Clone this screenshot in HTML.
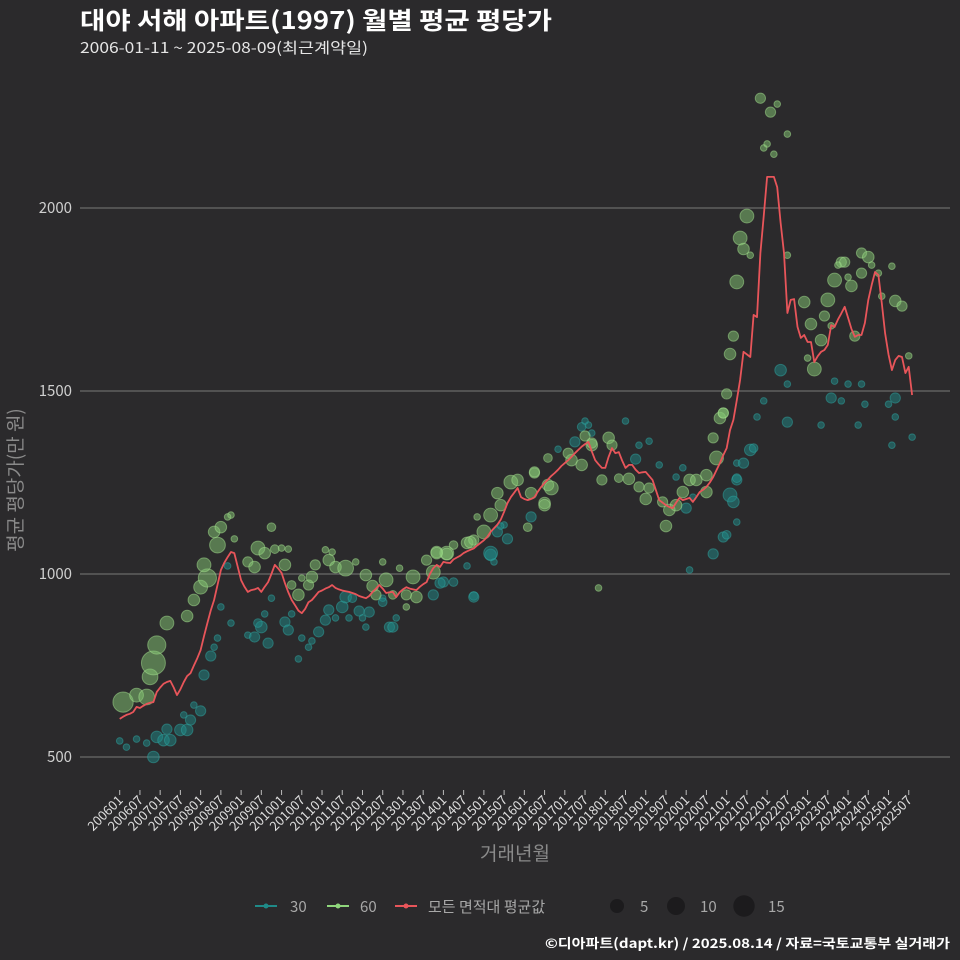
<!DOCTYPE html>
<html><head><meta charset="utf-8">
<style>
html,body{margin:0;padding:0;background:#2b2a2c;}
svg{display:block;font-family:"Noto Sans CJK KR","Liberation Sans",sans-serif;}
</style></head>
<body>
<svg id="chart" width="960" height="960" viewBox="0 0 960 960" xmlns="http://www.w3.org/2000/svg">
<rect x="0" y="0" width="960" height="960" fill="#2b2a2c"/>
<text x="80" y="29" fill="#ffffff" font-size="24" font-weight="bold" textLength="472" lengthAdjust="spacingAndGlyphs">대야 서해 아파트(1997) 월별 평균 평당가</text>
<text x="80" y="53" fill="#e6e6e6" font-size="15" textLength="288" lengthAdjust="spacingAndGlyphs">2006-01-11 ~ 2025-08-09(최근계약일)</text>
<g id="grid"></g>
<g id="yticks"></g>
<g id="xticks"></g>
<g id="dots30"></g>
<g id="dots60"></g>
<g id="avgline"></g>
<text transform="translate(22,480) rotate(-90)" text-anchor="middle" fill="#8a8a8a" font-size="19">평균 평당가(만 원)</text>
<text x="515" y="860" text-anchor="middle" fill="#8a8a8a" font-size="19">거래년월</text>
<g>
 <g>
  <line x1="255" y1="906" x2="277" y2="906" stroke="#1f8a88" stroke-width="2"/><circle cx="266" cy="906" r="2.5" fill="#1f8a88"/>
  <text x="290" y="912" fill="#a8a8a8" font-size="15">30</text></g>
 <g>
  <line x1="327" y1="906" x2="349" y2="906" stroke="#8fd67c" stroke-width="2"/><circle cx="338" cy="906" r="2.5" fill="#8fd67c"/>
  <text x="360" y="912" fill="#a8a8a8" font-size="15">60</text></g>
 <g>
  <line x1="395" y1="906" x2="417" y2="906" stroke="#e8555a" stroke-width="2"/><circle cx="406" cy="906" r="2.5" fill="#e8555a"/>
  <text x="428" y="912" fill="#a8a8a8" font-size="15">모든 면적대 평균값</text></g>
 <g>
  <circle cx="617" cy="906" r="7" fill="#1c1b1d"/><text x="640" y="912" fill="#a8a8a8" font-size="15">5</text>
  <circle cx="676" cy="906" r="9" fill="#1c1b1d"/><text x="700" y="912" fill="#a8a8a8" font-size="15">10</text>
  <circle cx="744" cy="906" r="10.7" fill="#1c1b1d"/><text x="768" y="912" fill="#a8a8a8" font-size="15">15</text>
 </g>
</g>
<text x="545" y="948" fill="#ffffff" font-size="13" font-weight="bold" textLength="405" lengthAdjust="spacingAndGlyphs">©디아파트(dapt.kr) / 2025.08.14 / 자료=국토교통부 실거래가</text>
</svg>
<script>
const yTicks = [500, 1000, 1500, 2000];
const xTickLabels = ["200601","200607","200701","200707","200801","200807","200901","200907","201001","201007","201101","201107","201201","201207","201301","201307","201401","201407","201501","201507","201601","201607","201701","201707","201801","201807","201901","201907","202001","202007","202101","202107","202201","202207","202301","202307","202401","202407","202501","202507"];
const avgValues = [604,610,615,618,623,637,634,640,645,648,650,678,
690,700,705,708,690,669,685,705,721,729,750,770,
792,830,866,900,929,970,1011,1030,1046,1060,1057,1020,
983,965,951,956,958,962,951,965,978,1000,1025,1015,
1003,975,950,929,915,900,893,905,923,929,940,951,
955,960,964,970,962,958,955,953,951,948,945,940,
937,934,940,951,960,970,960,948,950,951,937,950,
958,964,960,958,956,965,972,978,1000,1016,1025,1019,
1033,1031,1030,1040,1045,1050,1057,1062,1066,1070,1078,1085,
1092,1101,1115,1125,1135,1148,1170,1194,1210,1222,1235,1210,
1205,1202,1205,1210,1225,1238,1249,1258,1268,1276,1285,1295,
1303,1311,1320,1330,1339,1348,1355,1361,1335,1311,1300,1290,
1290,1320,1344,1330,1333,1310,1290,1298,1298,1285,1276,1278,
1279,1268,1257,1230,1202,1195,1188,1183,1180,1195,1208,1202,
1205,1208,1197,1210,1224,1230,1238,1250,1265,1284,1303,1325,
1344,1393,1421,1475,1530,1607,1600,1593,1708,1702,1877,1980,
2085,2085,2085,2057,1960,1877,1713,1749,1751,1675,1645,1653,
1634,1634,1579,1595,1607,1612,1626,1680,1675,1695,1712,1730,
1700,1670,1648,1653,1653,1686,1749,1790,1825,1817,1740,1658,
1600,1557,1585,1596,1593,1549,1566,1489];
// [monthIndex, avg price, trade count]
const series60 = [[1,650,14],[5,669,6],[8,664,8],[9,719,8],[10,757,20],[11,806,11],[14,866,6],[20,885,4],[22,929,4],[24,964,6],[26,989,11],[25,1025,6],[29,1079,8],[28,1115,4],[30,1128,4],[33,1161,1],[32,1156,1],[34,1096,1],[38,1033,3],[40,1019,4],[41,1071,6],[43,1057,4],[45,1128,2],[46,1068,2],[48,1071,1],[50,1068,1],[49,1025,4],[51,970,2],[53,943,4],[56,970,3],[54,989,1],[57,992,4],[58,1025,3],[62,1038,4],[61,1066,1],[63,1060,1],[64,1019,4],[67,1016,8],[70,1033,1],[73,997,4],[75,967,4],[78,1033,1],[79,984,6],[91,1038,3],[94,1060,4],[97,1057,6],[99,1079,2],[93,1005,6],[87,992,6],[83,1016,1],[88,937,4],[85,943,3],[76,943,3],[81,943,2],[85,910,1],[103,1085,4],[105,1093,3],[108,1115,6],[110,1161,6],[113,1188,4],[112,1221,4],[116,1251,6],[118,1257,4],[122,1221,4],[126,1194,4],[123,1276,3],[127,1243,4],[121,1128,2],[106,1156,1],[140,1352,4],[145,1372,4],[146,1352,3],[143,1257,3],[148,1262,2],[151,1260,4],[154,1238,3],[157,1235,3],[156,1205,4],[161,1197,3],[163,1175,4],[162,1131,4],[165,1188,4],[167,1224,4],[169,1257,4],[171,1257,4],[174,1270,4],[174,1224,4],[177,1317,6],[176,1372,3],[178,1426,4],[179,1440,3],[127,1317,2],[123,1279,3],[104,1087,4],[97,1055,4],[94,1057,4],[126,1188,4],[128,1235,6],[134,1311,4],[133,1330,3],[137,1298,4],[138,1377,3],[140,1358,3],[142,962,1],[190,2300,3],[193,2262,3],[195,2284,1],[198,2202,1],[191,2164,1],[192,2175,1],[194,2147,1],[186,1978,6],[184,1918,6],[185,1888,4],[187,1871,1],[183,1798,6],[182,1650,3],[181,1601,4],[180,1492,3],[179,1440,3],[198,1871,1],[203,1743,4],[205,1683,4],[208,1639,4],[206,1560,6],[209,1705,3],[210,1749,6],[212,1803,6],[214,1852,3],[215,1852,3],[213,1844,1],[216,1811,1],[217,1787,4],[220,1822,3],[220,1877,3],[222,1866,4],[223,1844,1],[225,1822,1],[226,1759,1],[229,1841,1],[230,1746,4],[232,1732,3],[218,1650,3],[234,1596,1],[211,1678,1],[204,1590,1]];
const series30 = [[0,544,1],[2,527,1],[5,549,1],[8,538,1],[10,500,4],[11,555,4],[13,546,4],[14,576,3],[15,546,4],[18,574,4],[20,574,4],[21,601,3],[24,626,3],[22,642,1],[19,615,1],[25,724,3],[27,776,3],[28,800,1],[29,825,1],[30,910,1],[33,866,1],[32,1022,1],[38,833,1],[40,828,3],[42,855,4],[41,866,2],[44,811,3],[43,891,1],[45,934,1],[49,869,3],[50,847,3],[51,891,1],[53,768,1],[54,825,1],[56,800,1],[57,817,1],[59,842,3],[61,874,3],[62,902,3],[64,880,1],[66,910,4],[67,937,4],[68,880,1],[69,934,2],[71,899,3],[72,880,1],[74,896,3],[73,855,1],[78,934,1],[80,855,3],[81,855,3],[78,923,2],[82,880,1],[93,943,3],[96,978,3],[99,978,2],[105,940,2],[103,1022,1],[110,1052,4],[111,1033,1],[115,1096,3],[112,1115,3],[114,1134,1],[122,1156,3],[137,1402,2],[139,1407,1],[138,1418,1],[140,1385,1],[135,1361,3],[130,1341,1],[153,1314,3],[150,1418,1],[154,1352,1],[157,1363,1],[160,1298,1],[165,1265,1],[167,1290,1],[110,1057,6],[113,1131,1],[95,975,3],[105,937,3],[169,1011,1],[176,1055,3],[179,1101,3],[180,1107,2],[181,1216,6],[182,1197,4],[183,1257,3],[183,1142,1],[183,1303,1],[168,1180,3],[170,1210,1],[196,1557,4],[198,1519,1],[191,1473,1],[189,1429,1],[198,1415,3],[208,1407,1],[212,1527,1],[216,1519,1],[220,1519,1],[211,1481,3],[214,1473,1],[221,1464,1],[219,1407,1],[228,1464,1],[230,1481,3],[230,1429,1],[229,1352,1],[235,1374,1],[187,1339,4],[188,1344,2],[185,1303,3],[183,1262,2]];

const NS = "http://www.w3.org/2000/svg";
const PX0 = 119.7, PXM = 3.372;
function xScale(m){ return PX0 + PXM*m; }
function yScale(v){ return 757 - (v-500)*0.366; }
function rScale(n){ return 0.8 + 2.5*Math.sqrt(n); }
function mk(tag, attrs, parent){ const e=document.createElementNS(NS,tag); for(const k in attrs) e.setAttribute(k, attrs[k]); parent.appendChild(e); return e; }

const grid = document.getElementById('grid');
const yt = document.getElementById('yticks');
yTicks.forEach(v=>{
  const l = mk('line',{x1:80,x2:950,y1:yScale(v),y2:yScale(v),stroke:'#6a6a6a','stroke-width':1.2},grid);
  
  
  const t = mk('text',{x:72,y:yScale(v)+5,'text-anchor':'end',fill:'#cfcfcf','font-size':15},yt);
  t.textContent = v;
  
  
});
const xt = document.getElementById('xticks');
xTickLabels.forEach((lab,i)=>{
  const x = xScale(i*6);
  const tk = mk('line',{x1:x,x2:x,y1:790,y2:795,stroke:'#bbbbbb','stroke-width':1},xt);
  
  
  const t = mk('text',{transform:`translate(${x+4},${801}) rotate(-45)`,'text-anchor':'end',fill:'#dedede','font-size':13},xt);
  t.textContent = lab;
  
  
});
function drawDots(arr, g, fill, stroke, op){
  arr.forEach(d=>{
    const c = mk('circle',{cx:xScale(d[0]),cy:yScale(d[1]),r:rScale(d[2]),fill:fill,'fill-opacity':op,stroke:stroke,'stroke-opacity':0.5,'stroke-width':1},g);
    
    
  });
}
drawDots(series30, document.getElementById('dots30'), '#1f8a88', '#2fa5a2', 0.5);
drawDots(series60, document.getElementById('dots60'), '#86c874', '#a5e28f', 0.5);
const pts = avgValues.map((v,i)=>xScale(i).toFixed(1)+','+yScale(v).toFixed(1)).join(' ');
const pl = mk('polyline',{points:pts,fill:'none',stroke:'#e8555a','stroke-width':1.8,'stroke-linejoin':'round'},document.getElementById('avgline'));


</script>
</body></html>
